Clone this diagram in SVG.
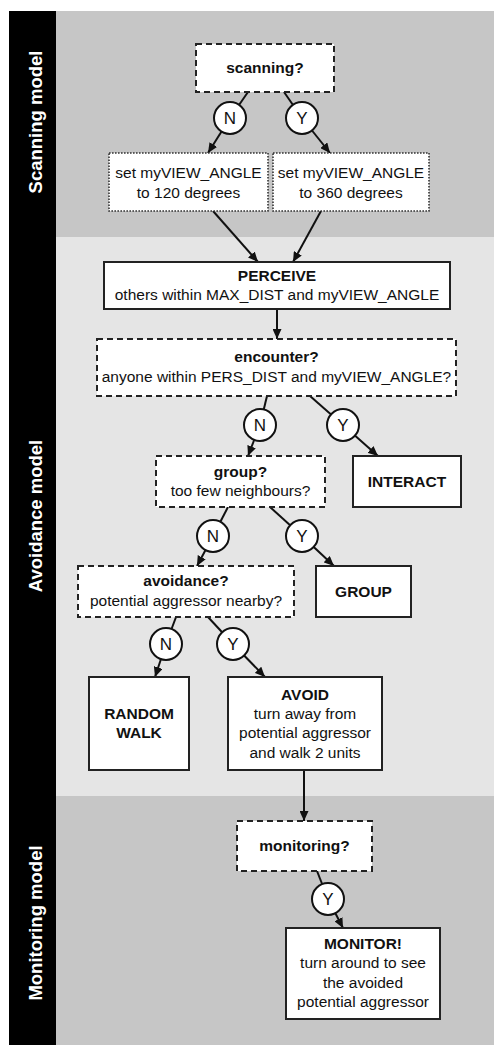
<svg xmlns="http://www.w3.org/2000/svg" width="494" height="1045" viewBox="0 0 494 1045">
<defs>
<style>
text{font-family:"Liberation Sans",Arial,sans-serif;font-size:15.5px;fill:#111;text-anchor:middle}
.b{font-weight:bold}
.yn{font-size:17px}
.side{font-size:18.5px;font-weight:bold;fill:#fff}
.dash{fill:#fff;stroke:#222;stroke-width:2;stroke-dasharray:6,4}
.dot{fill:#fff;stroke:#333;stroke-width:1.6;stroke-dasharray:1.6,1.4}
.solid{fill:#fff;stroke:#222;stroke-width:2}
.circ{fill:#fff;stroke:#111;stroke-width:2}
.ln{stroke:#111;stroke-width:2;fill:none}
.ar{stroke:#111;stroke-width:2;fill:none;marker-end:url(#ah)}
</style>
<marker id="ah" markerUnits="userSpaceOnUse" markerWidth="10" markerHeight="9" refX="10" refY="4.5" orient="auto">
<path d="M0,0 L10,4.5 L0,9 z" fill="#111"/>
</marker>
</defs>
<g id="background">
<rect x="0" y="0" width="494" height="1045" fill="#fff"/>
<rect x="56" y="11" width="438" height="226" fill="#c6c6c6"/>
<rect x="56" y="237" width="438" height="559" fill="#e5e5e5"/>
<rect x="56" y="796" width="438" height="249" fill="#c6c6c6"/>
<rect x="9" y="11" width="47" height="1034" fill="#000"/>
<text class="side" transform="translate(42,122) rotate(-90)">Scanning model</text>
<text class="side" transform="translate(42,516) rotate(-90)">Avoidance model</text>
<text class="side" transform="translate(42,923) rotate(-90)">Monitoring model</text>
</g>
<g id="connectors">
<line class="ln" x1="248" y1="92" x2="230" y2="118"/>
<line class="ar" x1="230" y1="118" x2="208" y2="153"/>
<line class="ln" x1="284" y1="92" x2="302" y2="118"/>
<line class="ar" x1="302" y1="118" x2="330" y2="153"/>
<line class="ar" x1="213" y1="211" x2="258" y2="262"/>
<line class="ar" x1="321" y1="211" x2="293" y2="262"/>
<line class="ar" x1="277" y1="309" x2="277" y2="339"/>
<line class="ln" x1="267" y1="396" x2="260" y2="425"/>
<line class="ar" x1="260" y1="425" x2="248" y2="456"/>
<line class="ln" x1="310" y1="396" x2="343" y2="425"/>
<line class="ar" x1="343" y1="425" x2="378" y2="456"/>
<line class="ln" x1="228" y1="507" x2="213" y2="536"/>
<line class="ar" x1="213" y1="536" x2="197" y2="566"/>
<line class="ln" x1="270" y1="507" x2="302" y2="536"/>
<line class="ar" x1="302" y1="536" x2="334" y2="566"/>
<line class="ln" x1="176" y1="617" x2="166" y2="644"/>
<line class="ar" x1="166" y1="644" x2="155" y2="677"/>
<line class="ln" x1="208" y1="617" x2="233" y2="644"/>
<line class="ar" x1="233" y1="644" x2="265" y2="677"/>
<line class="ar" x1="304" y1="770" x2="304" y2="821"/>
<line class="ln" x1="317" y1="871" x2="328" y2="899"/>
<line class="ar" x1="328" y1="899" x2="343" y2="928"/>
</g>
<g id="n-scanning"><rect class="dash" x="196" y="44" width="138" height="48"/><text class="b" x="265" y="73">scanning?</text></g>
<g id="c-n1"><circle class="circ" cx="230" cy="118" r="16"/><text class="yn" x="230" y="124">N</text></g>
<g id="c-y1"><circle class="circ" cx="302" cy="118" r="16"/><text class="yn" x="302" y="124">Y</text></g>
<g id="n-angle120"><rect class="dot" x="109" y="153" width="159" height="58"/><text x="188.5" y="178">set myVIEW_ANGLE</text><text x="188.5" y="198">to 120 degrees</text></g>
<g id="n-angle360"><rect class="dot" x="273" y="153" width="156" height="58"/><text x="351" y="178">set myVIEW_ANGLE</text><text x="351" y="198">to 360 degrees</text></g>
<g id="n-perceive"><rect class="solid" x="104" y="262" width="346" height="47"/><text class="b" x="277" y="281">PERCEIVE</text><text x="277" y="300">others within MAX_DIST and myVIEW_ANGLE</text></g>
<g id="n-encounter"><rect class="dash" x="97" y="339" width="359" height="57"/><text class="b" x="276.5" y="362">encounter?</text><text x="276.5" y="382">anyone within PERS_DIST and myVIEW_ANGLE?</text></g>
<g id="c-n2"><circle class="circ" cx="260" cy="425" r="16"/><text class="yn" x="260" y="431">N</text></g>
<g id="c-y2"><circle class="circ" cx="343" cy="425" r="16"/><text class="yn" x="343" y="431">Y</text></g>
<g id="n-group"><rect class="dash" x="156" y="456" width="169" height="51"/><text class="b" x="240.5" y="477">group?</text><text x="240.5" y="496">too few neighbours?</text></g>
<g id="n-interact"><rect class="solid" x="353" y="456" width="108" height="51"/><text class="b" x="407" y="487">INTERACT</text></g>
<g id="c-n3"><circle class="circ" cx="213" cy="536" r="16"/><text class="yn" x="213" y="542">N</text></g>
<g id="c-y3"><circle class="circ" cx="302" cy="536" r="16"/><text class="yn" x="302" y="542">Y</text></g>
<g id="n-avoidance"><rect class="dash" x="78" y="566" width="216" height="51"/><text class="b" x="186" y="586">avoidance?</text><text x="186" y="606">potential aggressor nearby?</text></g>
<g id="n-group-act"><rect class="solid" x="316" y="566" width="95" height="51"/><text class="b" x="363.5" y="597">GROUP</text></g>
<g id="c-n4"><circle class="circ" cx="166" cy="644" r="16"/><text class="yn" x="166" y="650">N</text></g>
<g id="c-y4"><circle class="circ" cx="233" cy="644" r="16"/><text class="yn" x="233" y="650">Y</text></g>
<g id="n-random"><rect class="solid" x="89" y="677" width="100" height="93"/><text class="b" x="139" y="719">RANDOM</text><text class="b" x="139" y="738">WALK</text></g>
<g id="n-avoid"><rect class="solid" x="228" y="677" width="154" height="93"/><text class="b" x="305" y="700">AVOID</text><text x="305" y="719">turn away from</text><text x="305" y="738">potential aggressor</text><text x="305" y="758">and walk 2 units</text></g>
<g id="n-monitoring"><rect class="dash" x="237" y="821" width="135" height="50"/><text class="b" x="304.5" y="851">monitoring?</text></g>
<g id="c-y5"><circle class="circ" cx="328" cy="899" r="16"/><text class="yn" x="328" y="905">Y</text></g>
<g id="n-monitor"><rect class="solid" x="286" y="928" width="154" height="91"/><text class="b" x="363" y="949">MONITOR!</text><text x="363" y="968">turn around to see</text><text x="363" y="988">the avoided</text><text x="363" y="1007">potential aggressor</text></g>
</svg>
